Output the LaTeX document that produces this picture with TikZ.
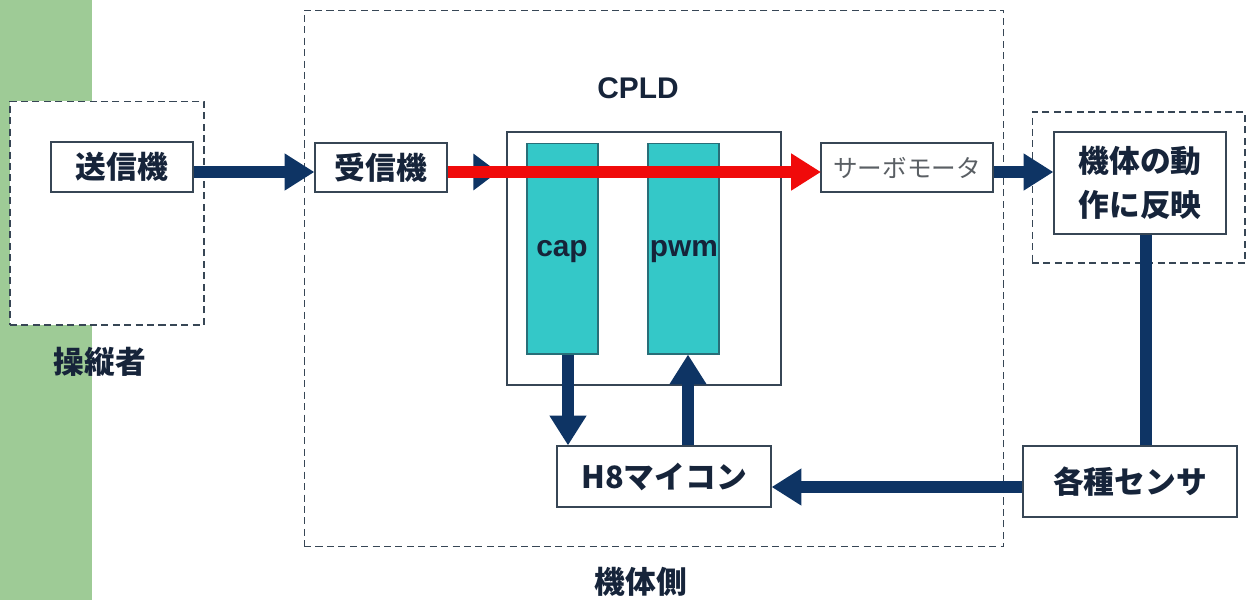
\documentclass[tikz,border=0pt]{standalone}
\usepackage{fontspec}
\setmainfont{Liberation Sans}
\newfontfamily\jp{Noto Sans CJK JP}
\usetikzlibrary{arrows.meta}
\definecolor{navy}{RGB}{14,52,100}
\definecolor{txt}{RGB}{22,36,58}
\definecolor{bord}{RGB}{55,70,85}
\definecolor{greenbar}{RGB}{158,203,150}
\definecolor{teal}{RGB}{52,200,200}
\definecolor{tealb}{RGB}{40,110,120}
\definecolor{arrred}{RGB}{240,10,10}
\definecolor{servotxt}{RGB}{90,95,100}
\tikzset{
  box/.style={draw=bord,line width=0.7pt,fill=white,inner sep=0pt,font=\jp\bfseries\fontsize{17.5}{21}\selectfont,text=txt},
  dbox/.style={draw=bord,line width=0.6pt,dash pattern=on 4pt off 2.5pt,inner sep=0pt},
  col/.style={draw=tealb,line width=0.6pt,fill=teal,inner sep=0pt},
  arr/.style={draw=navy,line width=7pt,-{Triangle[length=17pt,width=20pt]},shorten >=0pt},
  redarr/.style={draw=arrred,line width=7pt,-{Triangle[length=17pt,width=20pt]}},
  link/.style={draw=navy,line width=7pt},
  lbl/.style={font=\jp\bfseries\fontsize{17.5}{21}\selectfont,text=txt,inner sep=0pt},
  latin/.style={font=\bfseries\fontsize{17}{20}\selectfont,text=txt,inner sep=0pt}
}
\begin{document}
\begin{tikzpicture}[x=0.02cm,y=-0.02cm]
\useasboundingbox (0,0) rectangle (1248,600);
\fill[greenbar] (0,0) rectangle (92,600);
% dashed groups
\node[dbox,fill=white,minimum width=3.88cm,minimum height=4.48cm] (opgrp) at (107,213) {};
\node[dbox,minimum width=14cm,minimum height=10.74cm] (bodygrp) at (654,278.5) {};
\node[dbox,minimum width=4.26cm,minimum height=3.02cm] (actgrp) at (1138.5,187.5) {};
% labels of groups
\node[lbl] (oplbl) at (100,362) {操縦者};
\node[lbl] (bodylbl) at (641,582) {機体側};
\node[latin] (cpldlbl) at (638,88) {CPLD};
% boxes
\node[box,minimum width=2.84cm,minimum height=1cm] (tx) at (122,167) {送信機};
\node[box,minimum width=2.64cm,minimum height=0.98cm] (rx) at (381,167.5) {受信機};
\node[draw=bord,line width=0.7pt,fill=white,inner sep=0pt,minimum width=5.48cm,minimum height=5.06cm] (cpld) at (644,258.5) {};
\node[col,minimum width=1.42cm,minimum height=4.22cm] (cap) at (562.5,248.5) {};
\node[col,minimum width=1.42cm,minimum height=4.22cm] (pwm) at (683.5,248.5) {};
\node[latin] (caplbl) at (562,252) {cap};
\node[latin] (pwmlbl) at (684,252) {pwm};
\node[box,minimum width=4.28cm,minimum height=1.22cm] (h8) at (664,476.5) {H8マイコン};
\node[box,minimum width=4.28cm,minimum height=1.42cm] (sens) at (1130,481.5) {各種センサ};
\node[box,font=\jp\fontsize{14}{17}\selectfont,text=servotxt,minimum width=3.44cm,minimum height=0.98cm] (servo) at (907,167.5) {サーボモータ};
\node[box,align=center,font=\jp\bfseries\fontsize{17.5}{25}\selectfont,minimum width=3.44cm,minimum height=2.04cm] (act) at (1140,183) {機体の動\\作に反映};
% helper coordinates
\coordinate (rxend) at (498,172);
\coordinate (redend) at (821,172);
\coordinate (capx) at (568,0);
\coordinate (pwmx) at (688,0);
\coordinate (senty) at (0,487);
\coordinate (vx) at (1146,0);
\coordinate (ay) at (0,172);
% connectors
\draw[arr] (tx.east |- ay) -- (rx.west |- ay);
\draw[arr,-{Triangle[length=14pt,width=20pt]}] (rx.east |- ay) -- (rxend);
\draw[redarr] (rx.east |- ay) -- (redend);
\draw[arr] (servo.east |- ay) -- (act.west |- ay);
\draw[arr] (capx |- cap.south) -- (capx |- h8.north);
\draw[arr] (pwmx |- h8.north) -- (pwmx |- pwm.south);
\draw[arr] (sens.west |- senty) -- (h8.east |- senty);
\draw[link] (vx |- act.south) -- (vx |- sens.north);
\end{tikzpicture}
\end{document}
